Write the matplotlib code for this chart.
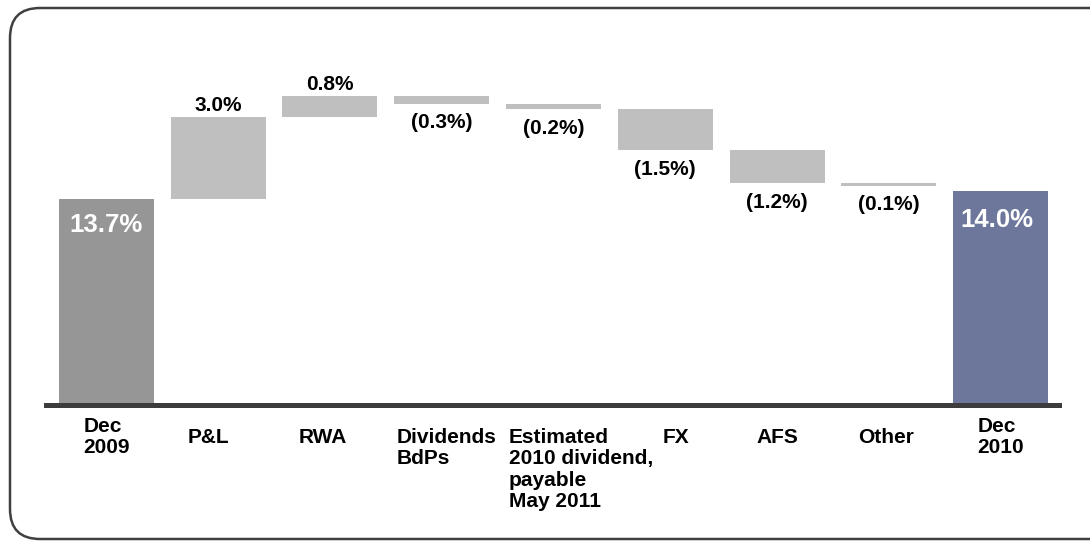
import matplotlib
matplotlib.use("Agg")
import matplotlib.pyplot as plt
from matplotlib.patches import FancyBboxPatch

# ---------------- data ----------------
categories = ["Dec\n2009", "P&L", "RWA", "Dividends\nBdPs",
              "Estimated\n2010 dividend,\npayable\nMay 2011",
              "FX", "AFS", "Other", "Dec\n2010"]
start_value = 13.7
deltas = [3.0, 0.8, -0.3, -0.2, -1.5, -1.2, -0.1]
end_value = 14.0

# ---------------- style ----------------
plt.rcParams['font.family'] = ['Liberation Sans', 'DejaVu Sans']
c_start = '#969696'
c_step = '#bfbfbf'
c_end = '#6d779c'
c_axis = '#3c3c3c'
label_ha = ['center', 'center', 'center', 'left', 'left',
            'center', 'center', 'center', 'center']
label_dx = [0, -7, -5, 2, 2, 8, 0, -2, 0]   # points
bar_w = 0.85
y_floor = 6.16
y_top = 18.07

fig = plt.figure(figsize=(10.9, 5.42), dpi=100)

# rounded frame
bg = fig.add_axes([0, 0, 1, 1], zorder=-1)
bg.set_xlim(0, 1090)
bg.set_ylim(542, 0)
bg.axis('off')
bg.add_patch(FancyBboxPatch((10, 8), 1130, 531,
                            boxstyle='round,pad=0,rounding_size=30',
                            fill=False, ec='#404040', lw=1.8))

ax = fig.add_axes([46 / 1090, 137 / 542, (1059 - 46) / 1090, (462 - 137) / 542])
ax.set_xlim(-0.541, 8.523)
ax.set_ylim(y_floor, y_top)
for s in ['top', 'left', 'right']:
    ax.spines[s].set_visible(False)
ax.spines['bottom'].set_color(c_axis)
ax.spines['bottom'].set_linewidth(3.6)
ax.set_xticks([])
ax.set_yticks([])
ax.patch.set_alpha(0)

n = len(categories)
# start bar
ax.bar(0, start_value - y_floor, bottom=y_floor, width=bar_w, color=c_start, zorder=2)
ax.annotate(f"{start_value:.1f}%", xy=(0, start_value), xytext=(0, -10),
            textcoords='offset points', ha='center', va='top',
            color='white', fontsize=18.5, fontweight='bold', zorder=3)

level = start_value
for i, d in enumerate(deltas, start=1):
    lo, hi = (level, level + d) if d >= 0 else (level + d, level)
    ax.bar(i, hi - lo, bottom=lo, width=bar_w, color=c_step, zorder=2)
    if d >= 0:
        ax.annotate(f"{d:.1f}%", xy=(i, hi), xytext=(0, 4.3),
                    textcoords='offset points', ha='center', va='baseline',
                    fontsize=15, fontweight='bold', color='black')
    else:
        ax.annotate(f"({abs(d):.1f}%)", xy=(i, lo), xytext=(0, -7),
                    textcoords='offset points', ha='center', va='top',
                    fontsize=15, fontweight='bold', color='black')
    level += d

# end bar
ax.bar(n - 1, end_value - y_floor, bottom=y_floor, width=bar_w, color=c_end, zorder=2)
ax.annotate(f"{end_value:.1f}%", xy=(n - 1, end_value), xytext=(-3, -12),
            textcoords='offset points', ha='center', va='top',
            color='white', fontsize=18.5, fontweight='bold', zorder=3)

# category labels
for i, lab in enumerate(categories):
    is_total = i in (0, n - 1)
    dy = -8.5 if is_total else -16.5
    if label_ha[i] == 'left':
        ax.annotate(lab, xy=(i - bar_w / 2, y_floor), xytext=(label_dx[i], dy),
                    textcoords='offset points', ha='left', va='top',
                    multialignment='left', linespacing=1.16,
                    fontsize=15, fontweight='bold', color='black',
                    annotation_clip=False)
    else:
        ax.annotate(lab, xy=(i, y_floor), xytext=(label_dx[i], dy),
                    textcoords='offset points', ha='center', va='top',
                    multialignment='left', linespacing=1.16,
                    fontsize=15, fontweight='bold', color='black',
                    annotation_clip=False)

fig.savefig('out.png', dpi=100)
